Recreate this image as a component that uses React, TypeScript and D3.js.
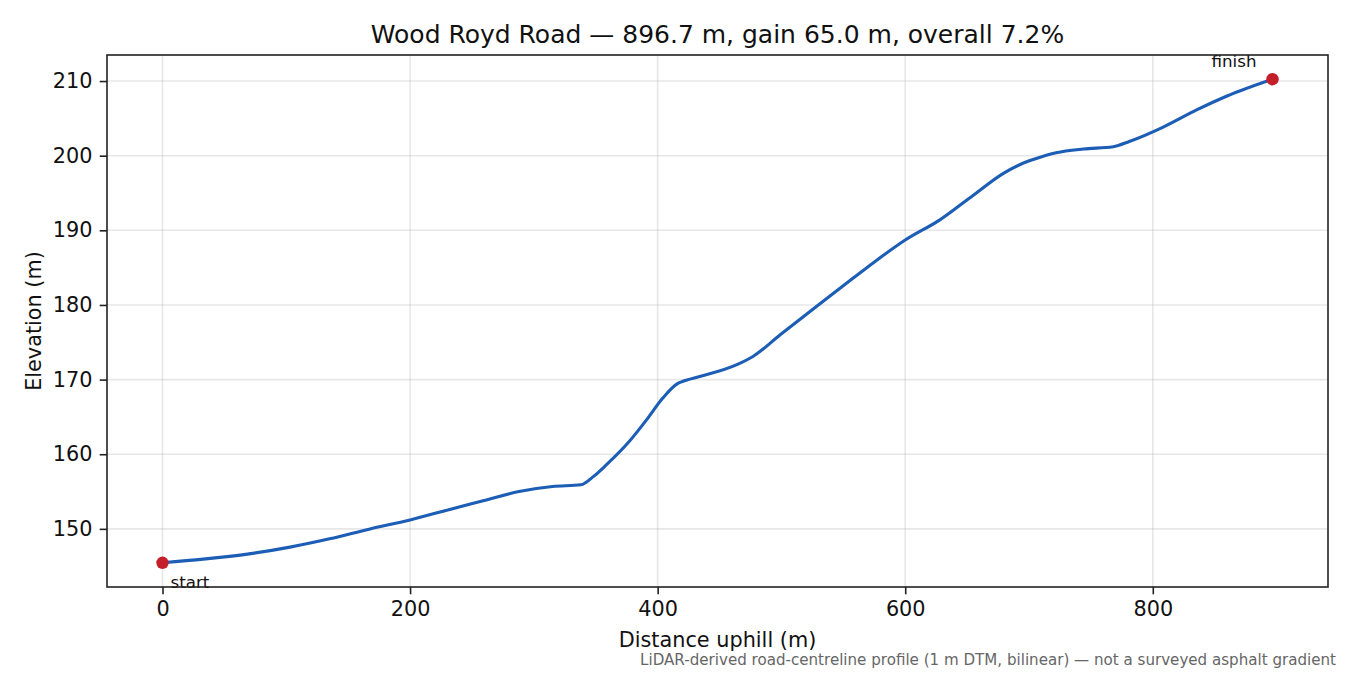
import * as d3 from "d3";
import React, { useEffect, useRef } from "react";

const width = 1350;
const height = 675;

// distance along the road (m) and elevation (m)
const distance = [
  0, 33, 70, 103, 135, 167, 200, 232, 259, 288, 315, 338, 348, 358.5, 377, 391,
  404, 416.4, 420, 434, 464, 477, 499, 528, 558, 577, 600, 628, 655, 679, 695,
  709, 722, 744, 768, 781, 808, 835, 860, 896.7,
];
const elevation = [
  145.45, 145.94, 146.65, 147.55, 148.66, 149.96, 151.2, 152.6, 153.75, 155.0,
  155.67, 155.9, 157.0, 158.57, 161.7, 164.6, 167.5, 169.5, 169.75, 170.4,
  172.0, 173.1, 176.0, 179.77, 183.6, 186.0, 188.7, 191.4, 194.7, 197.6, 198.98,
  199.8, 200.4, 200.9, 201.2, 201.9, 203.8, 206.1, 208.0, 210.25,
];
const xTicks = [0, 200, 400, 600, 800];
const yTicks = [150, 160, 170, 180, 190, 200, 210];

const title = "Wood Royd Road — 896.7 m, gain 65.0 m, overall 7.2%";
const footnote =
  "LiDAR-derived road-centreline profile (1 m DTM, bilinear) — not a surveyed asphalt gradient";

const margin = { top: 55, right: 22, bottom: 88, left: 107 };
const font = "DejaVu Sans, sans-serif";

export default function App() {
  const holderRef = useRef<HTMLDivElement | null>(null);

  useEffect(() => {
    const holder = holderRef.current;
    if (!holder || holder.hasChildNodes()) return;

    const data = distance.map((d, i) => ({ x: d, y: elevation[i] }));

    // matplotlib-style 5% padding around the data
    const [x0, x1] = d3.extent(distance) as [number, number];
    const [y0, y1] = d3.extent(elevation) as [number, number];
    const px = (x1 - x0) * 0.05;
    const py = (y1 - y0) * 0.05;

    const x = d3
      .scaleLinear()
      .domain([x0 - px, x1 + px])
      .range([margin.left, width - margin.right]);
    const y = d3
      .scaleLinear()
      .domain([y0 - py, y1 + py])
      .range([height - margin.bottom, margin.top]);

    const svg = d3
      .select(holder)
      .append("svg")
      .attr("width", width)
      .attr("height", height)
      .attr("viewBox", [0, 0, width, height])
      .attr("style", `display:block; background:#fff; font-family:${font};`);

    const plotB = height - margin.bottom;
    const plotR = width - margin.right;

    // grid
    const grid = svg
      .append("g")
      .attr("stroke", "#b0b0b0")
      .attr("stroke-opacity", 0.3)
      .attr("stroke-width", 1.6);
    grid
      .selectAll("line.gx")
      .data(xTicks)
      .join("line")
      .attr("x1", (d) => x(d))
      .attr("x2", (d) => x(d))
      .attr("y1", margin.top)
      .attr("y2", plotB);
    grid
      .selectAll("line.gy")
      .data(yTicks)
      .join("line")
      .attr("class", "gy")
      .attr("x1", margin.left)
      .attr("x2", plotR)
      .attr("y1", (d) => y(d))
      .attr("y2", (d) => y(d));

    // profile line
    const line = d3
      .line<{ x: number; y: number }>()
      .curve(d3.curveMonotoneX)
      .x((d) => x(d.x))
      .y((d) => y(d.y));

    svg
      .append("path")
      .datum(data)
      .attr("fill", "none")
      .attr("stroke", "#1c5db5")
      .attr("stroke-width", 3.1)
      .attr("stroke-linejoin", "round")
      .attr("stroke-linecap", "round")
      .attr("d", line);

    // start / finish markers
    const ends = [data[0], data[data.length - 1]];
    svg
      .append("g")
      .selectAll("circle")
      .data(ends)
      .join("circle")
      .attr("cx", (d) => x(d.x))
      .attr("cy", (d) => y(d.y))
      .attr("r", 6.2)
      .attr("fill", "#c41e2a");

    svg
      .append("text")
      .attr("x", x(ends[0].x) + 8)
      .attr("y", y(ends[0].y) + 25)
      .attr("font-size", 16.7)
      .attr("fill", "#111")
      .text("start");

    svg
      .append("text")
      .attr("x", x(ends[1].x) - 16)
      .attr("y", y(ends[1].y) - 12)
      .attr("text-anchor", "end")
      .attr("font-size", 16.7)
      .attr("fill", "#111")
      .text("finish");

    // frame
    svg
      .append("rect")
      .attr("x", margin.left)
      .attr("y", margin.top)
      .attr("width", plotR - margin.left)
      .attr("height", plotB - margin.top)
      .attr("fill", "none")
      .attr("stroke", "#222")
      .attr("stroke-width", 1.6);

    // x axis
    const xAxis = svg
      .append("g")
      .attr("transform", `translate(0,${plotB})`)
      .call(d3.axisBottom(x).tickValues(xTicks).tickSize(7.3).tickPadding(7.3));
    xAxis.select(".domain").remove();
    xAxis.selectAll("line").attr("stroke", "#222").attr("stroke-width", 1.6);
    xAxis
      .selectAll("text")
      .attr("font-family", font)
      .attr("font-size", 20.8)
      .attr("fill", "#111");

    // y axis
    const yAxis = svg
      .append("g")
      .attr("transform", `translate(${margin.left},0)`)
      .call(d3.axisLeft(y).tickValues(yTicks).tickSize(7.3).tickPadding(7.3));
    yAxis.select(".domain").remove();
    yAxis.selectAll("line").attr("stroke", "#222").attr("stroke-width", 1.6);
    yAxis
      .selectAll("text")
      .attr("font-family", font)
      .attr("font-size", 20.8)
      .attr("fill", "#111");

    // labels
    svg
      .append("text")
      .attr("x", (margin.left + plotR) / 2)
      .attr("y", 647)
      .attr("text-anchor", "middle")
      .attr("font-size", 20.8)
      .attr("fill", "#111")
      .text("Distance uphill (m)");

    svg
      .append("text")
      .attr("transform", `translate(41,${(margin.top + plotB) / 2}) rotate(-90)`)
      .attr("text-anchor", "middle")
      .attr("font-size", 20.8)
      .attr("fill", "#111")
      .text("Elevation (m)");

    svg
      .append("text")
      .attr("x", (margin.left + plotR) / 2)
      .attr("y", 42.5)
      .attr("text-anchor", "middle")
      .attr("font-size", 25)
      .attr("fill", "#111")
      .text(title);

    svg
      .append("text")
      .attr("x", 1336)
      .attr("y", 665)
      .attr("text-anchor", "end")
      .attr("font-size", 15.1)
      .attr("fill", "#666")
      .text(footnote);
  }, []);

  return (
    <div
      ref={holderRef}
      style={{ position: "absolute", left: 0, top: 0, width, height }}
    />
  );
}
